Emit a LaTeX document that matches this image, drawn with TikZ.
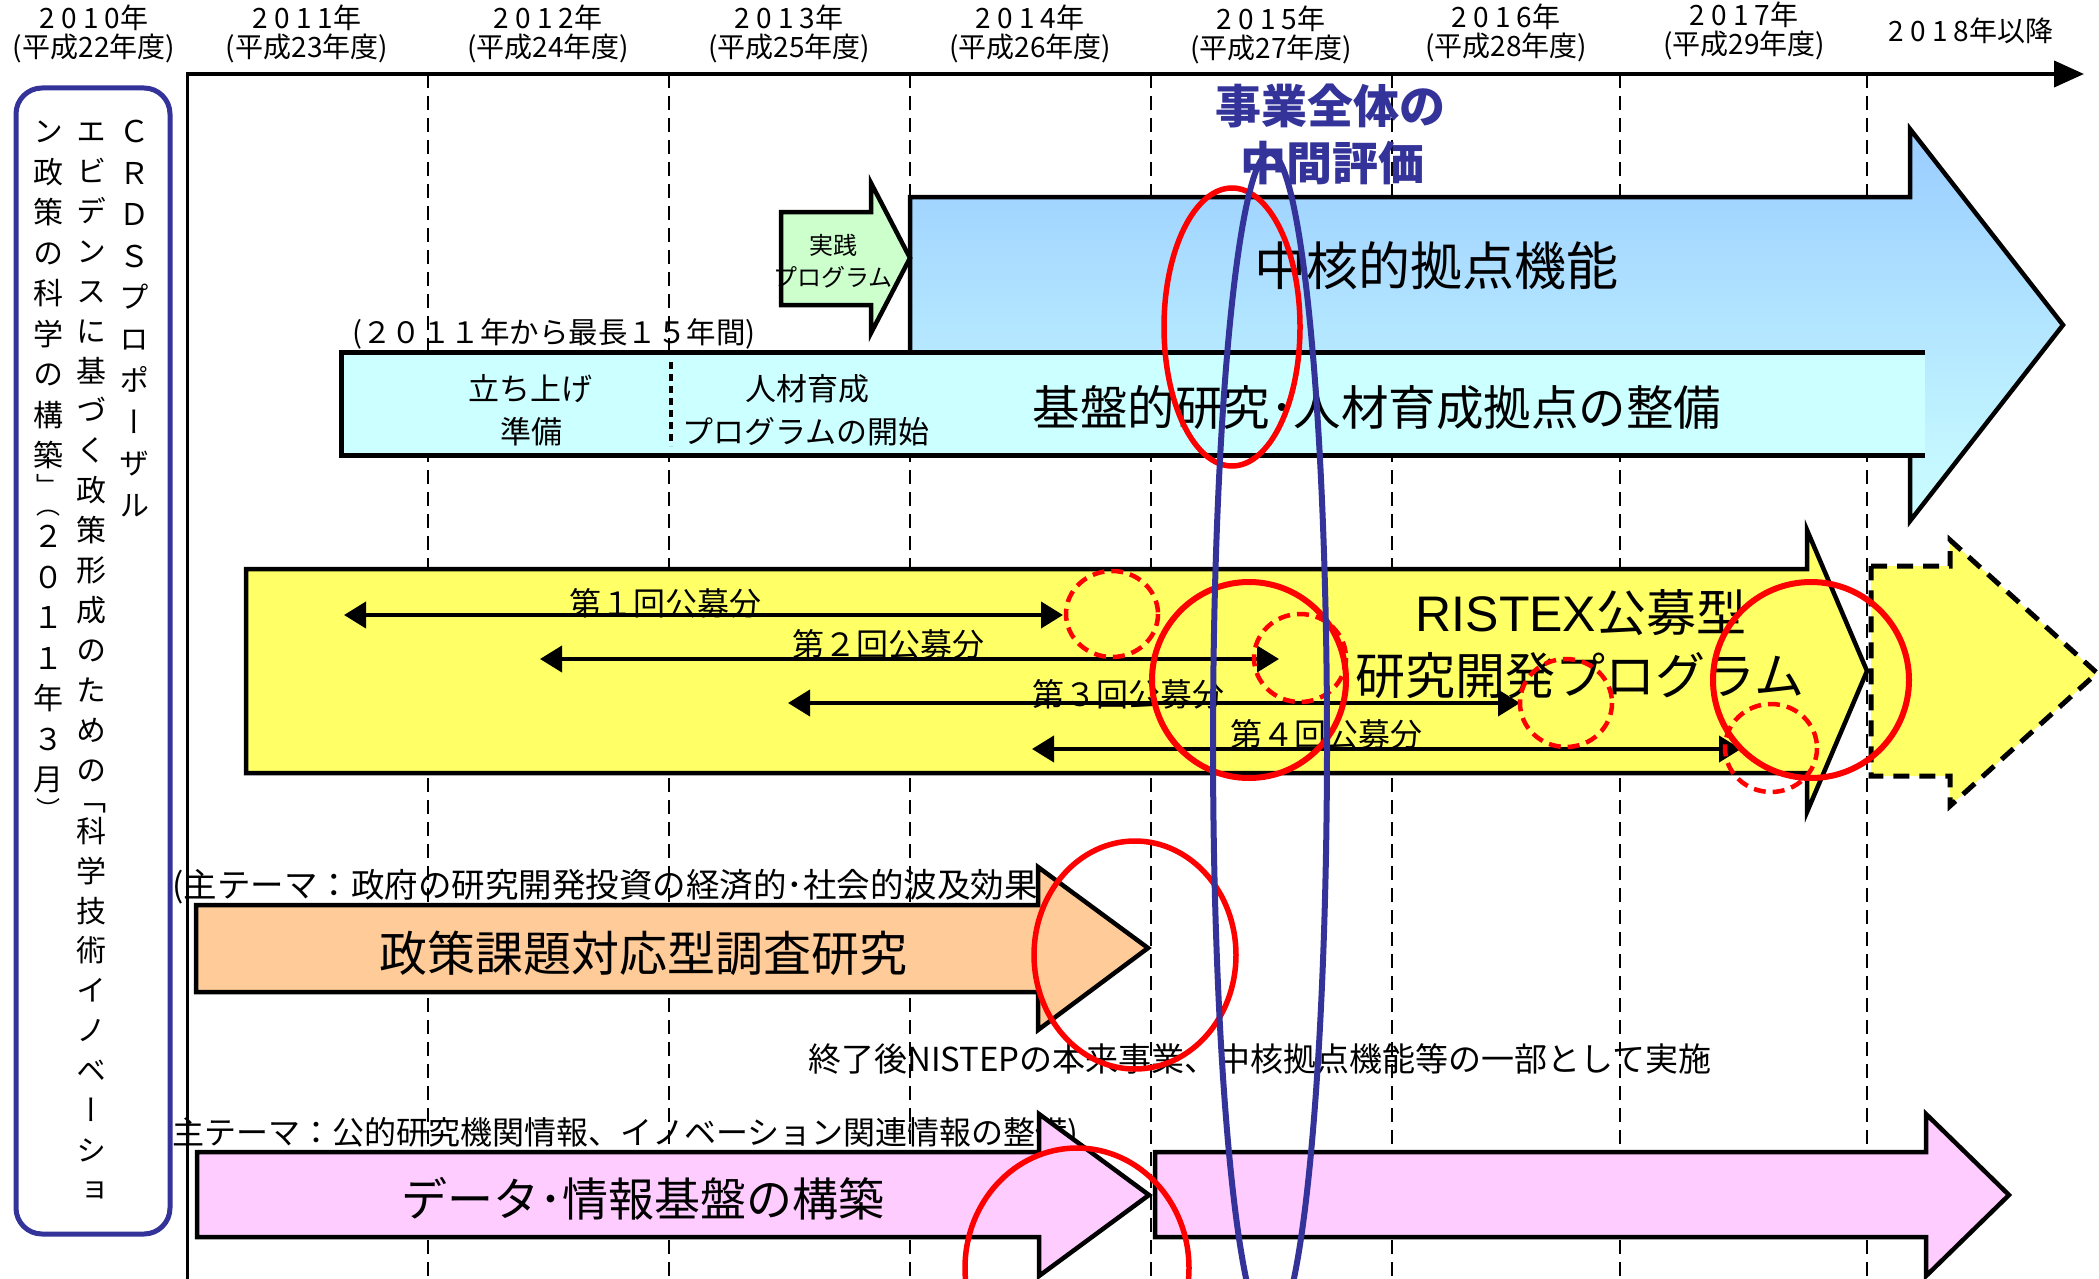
\documentclass[tikz,border=0pt]{standalone}
\usepackage{fontspec}
\setmainfont{Noto Sans CJK JP}
\newfontfamily\vfont[RawFeature={+vert}]{Noto Sans CJK JP}
\newfontfamily\latfont{Liberation Sans}
\usetikzlibrary{arrows.meta}
\definecolor{blueA}{HTML}{99CCFF}
\definecolor{cyanA}{HTML}{CCFFFF}
\definecolor{greenA}{HTML}{CCFFCC}
\definecolor{yellowA}{HTML}{FFFF66}
\definecolor{orangeA}{HTML}{FFCC99}
\definecolor{pinkA}{HTML}{FFCCFF}
\definecolor{navyA}{HTML}{333399}
\definecolor{redA}{HTML}{FF0000}
\newcommand\fsz[1]{\fontsize{#1pt}{#1pt}\selectfont}
% one cell of vertical text: glyph, row height, raise of glyph baseline
\newcommand\vcell[3]{\hbox to 30pt{\hss\raise#3\hbox{\smash{#1}}\hss\vrule height#2 depth0pt width0pt}}
\newcommand\vcA[1]{\vcell{#1}{41.5pt}{9.35pt}}
\newcommand\vcB[1]{\vcell{#1}{39.9pt}{8.55pt}}
\newcommand\vhB[1]{\vcell{#1}{19.95pt}{-1.425pt}}
\newcommand\vcC[1]{\vcell{#1}{40.5pt}{8.85pt}}
\newcommand\vhC[1]{\vcell{\fsz{24}#1}{20.25pt}{1pt}}
\tikzset{
 lbl/.style={inner sep=0pt, font=\fsz{#1}},
 vcol/.style={inner sep=0pt, anchor=north, font=\vfont\fsz{30}},
 arrowbox/.style={draw=black, line width=4.5pt, line join=miter},
 yrline/.style={draw=black, line width=2.2pt, dash pattern=on 14pt off 8pt},
 redd/.style={draw=redA, line width=4.5pt, dash pattern=on 12pt off 7pt},
 reds/.style={draw=redA, line width=5.5pt},
 navyell/.style={draw=navyA, line width=6pt},
 spanarrow/.style={line width=4pt, {Triangle[length=22pt,width=26pt]}-{Triangle[length=22pt,width=26pt]}}
}
\begin{document}
\begin{tikzpicture}[x=1pt,y=-1pt]
\useasboundingbox (0,0) rectangle (2099,1279);
\clip (0,0) rectangle (2099,1279);
\fill[white] (0,0) rectangle (2099,1279);

% year grid lines
\foreach \x in {428,669,910,1151,1392,1620,1867}
  \draw[yrline] (\x,74) -- (\x,1279);

% year labels
\node[lbl=28] (y10a) at (94,18) {2 0 1 0年};
\node[lbl=28] (y10b) at (94,48) {(平成22年度)};
\node[lbl=28] (y11a) at (307,18) {2 0 1 1年};
\node[lbl=28] (y11b) at (307,48) {(平成23年度)};
\node[lbl=28] (y12a) at (548,18) {2 0 1 2年};
\node[lbl=28] (y12b) at (548,48) {(平成24年度)};
\node[lbl=28] (y13a) at (789,18) {2 0 1 3年};
\node[lbl=28] (y13b) at (789,48) {(平成25年度)};
\node[lbl=28] (y14a) at (1030,18) {2 0 1 4年};
\node[lbl=28] (y14b) at (1030,48) {(平成26年度)};
\node[lbl=28] (y15a) at (1271,19) {2 0 1 5年};
\node[lbl=28] (y15b) at (1271,49) {(平成27年度)};
\node[lbl=28] (y16a) at (1506,17) {2 0 1 6年};
\node[lbl=28] (y16b) at (1506,47) {(平成28年度)};
\node[lbl=28] (y17a) at (1744,15) {2 0 1 7年};
\node[lbl=28] (y17b) at (1744,45) {(平成29年度)};
\node[lbl=28] (y18a) at (1971,31) {2 0 1 8年以降};

% axes
\coordinate (O) at (187,74);
\coordinate (Otop) at (187,72);
\coordinate (Xend) at (2084,74);
\coordinate (Yend) at (187,1285);
\draw[line width=4pt, -{Triangle[length=30pt,width=26pt]}] (O) -- (Xend);
\draw[line width=3pt] (Otop) -- (Yend);

% left proposal box with vertical text
\node[draw=navyA, line width=5pt, rounded corners=26pt, fill=white, inner sep=0pt,
      minimum width=154pt, minimum height=1146pt] (crds) at (93,661) {};
\node[vcol] (colA) at (134,110.25) {\vbox{\offinterlineskip
  \vcA{Ｃ}\vcA{Ｒ}\vcA{Ｄ}\vcA{Ｓ}\vcA{プ}\vcA{ロ}\vcA{ポ}\vcA{ー}\vcA{ザ}\vcA{ル}}};
\node[vcol] (colB) at (91,111.05) {\vbox{\offinterlineskip
  \vcB{エ}\vcB{ビ}\vcB{デ}\vcB{ン}\vcB{ス}\vcB{に}\vcB{基}\vcB{づ}\vcB{く}\vcB{政}\vcB{策}\vcB{形}\vcB{成}\vcB{の}\vcB{た}\vcB{め}\vcB{の}\vhB{「}\vcB{科}\vcB{学}\vcB{技}\vcB{術}\vcB{イ}\vcB{ノ}\vcB{ベ}\vcB{ー}\vcB{シ}\vcB{ョ}}};
\node[vcol] (colC) at (48,110.75) {\vbox{\offinterlineskip
  \vcC{ン}\vcC{政}\vcC{策}\vcC{の}\vcC{科}\vcC{学}\vcC{の}\vcC{構}\vcC{築}\vhC{」}\vhC{（}\vcC{２}\vcC{０}\vcC{１}\vcC{１}\vcC{年}\vcC{３}\vcC{月}\vhC{）}}};

% core function arrow (blue)
\draw[arrowbox, top color=blueA, middle color=blueA, bottom color=cyanA]
  (910,197) -- (1910,197) -- (1910,129) -- (2063,325) -- (1910,521) -- (1910,455) -- (910,455) -- cycle;
% practice program arrow (green)
\draw[arrowbox, fill=greenA]
  (781,212) -- (871,212) -- (871,183) -- (910,258) -- (871,333) -- (871,305) -- (781,305) -- cycle;
\node[lbl=24] (jissen1) at (833,245) {実践};
\node[lbl=24] (jissen2) at (833,277) {プログラム};
\node[lbl=52] (core) at (1436,266) {中核的拠点機能};

% base bar (cyan)
\fill[cyanA] (341,352) rectangle (1925,455);
\draw[line width=5pt, line join=miter] (1925,352) -- (341,352) -- (341,455) -- (1925,455);
\draw[line width=4pt, dash pattern=on 7pt off 5pt] (671,362) -- (671,446);
\node[lbl=31] (tachi1) at (530,389) {立ち上げ};
\node[lbl=31] (tachi2) at (531,432) {準備};
\node[lbl=31] (jinz1) at (807,389) {人材育成};
\node[lbl=31] (jinz2) at (806,432) {プログラムの開始};
\node[lbl=47.5] (base) at (1377,408) {基盤的研究･人材育成拠点の整備};
\node[lbl=29.5] (period) at (554,334) {(２０１１年から最長１５年間)};

% RISTEX arrow (yellow)
\draw[arrowbox, fill=yellowA]
  (246,569) -- (1807,569) -- (1807,530) -- (1867,671) -- (1807,812) -- (1807,773) -- (246,773) -- cycle;
\draw[line width=5pt, dash pattern=on 16pt off 10pt, line join=miter, fill=yellowA]
  (1871,566) -- (1950,566) -- (1950,540) -- (2097,673) -- (1950,806) -- (1950,776) -- (1871,776) -- cycle;
\node[lbl=50] (ristex1) at (1581,613) {{\latfont RISTEX}公募型};
\node[lbl=50] (ristex2) at (1580,676) {研究開発プログラム};

\coordinate (a1l) at (344,615);  \coordinate (a1r) at (1063,615);
\coordinate (a2l) at (540,659);  \coordinate (a2r) at (1279,659);
\coordinate (a3l) at (788,703);  \coordinate (a3r) at (1520,703);
\coordinate (a4l) at (1032,749); \coordinate (a4r) at (1741,749);
\draw[spanarrow] (a1l) -- (a1r);
\draw[spanarrow] (a2l) -- (a2r);
\draw[spanarrow] (a3l) -- (a3r);
\draw[spanarrow] (a4l) -- (a4r);
\node[lbl=32] (k1) at (665,603) {第１回公募分};
\node[lbl=32] (k2) at (888,644) {第２回公募分};
\node[lbl=32] (k3) at (1128,694) {第３回公募分};
\node[lbl=32] (k4) at (1326,734) {第４回公募分};

% policy research arrow (orange)
\node[lbl=33.5, anchor=west] (theme1) at (172,887) {(主テーマ：政府の研究開発投資の経済的･社会的波及効果};
\draw[arrowbox, fill=orangeA]
  (196,905) -- (1038,905) -- (1038,867) -- (1148,948) -- (1038,1030) -- (1038,992) -- (196,992) -- cycle;
\node[lbl=48] (policy) at (643,953) {政策課題対応型調査研究};
\node[lbl=33] (after) at (1260,1059) {終了後NISTEPの本来事業、中核拠点機能等の一部として実施};

% data arrows (pink)
\node[lbl=32, anchor=west] (theme2) at (172,1134) {主テーマ：公的研究機関情報、イノベーション関連情報の整備)};
\draw[arrowbox, fill=pinkA]
  (197,1152) -- (1039,1152) -- (1039,1114) -- (1149,1195) -- (1039,1276) -- (1039,1237) -- (197,1237) -- cycle;
\draw[arrowbox, fill=pinkA]
  (1155,1152) -- (1926,1152) -- (1926,1114) -- (2009,1195) -- (1926,1276) -- (1926,1237) -- (1155,1237) -- cycle;
\node[lbl=46] (data) at (643,1199) {データ･情報基盤の構築};

% mid-term evaluation
\node[lbl=46, font=\fsz{46}\bfseries, text=navyA] (eval1) at (1330,106) {事業全体の};
\node[lbl=46, font=\fsz{46}\bfseries, text=navyA] (eval2) at (1332,163) {中間評価};

% red marks
\draw[redd] (1112,614) ellipse [x radius=46, y radius=43];
\draw[redd] (1300,658) ellipse [x radius=46, y radius=44];
\draw[redd] (1566,703) ellipse [x radius=46, y radius=44];
\draw[redd] (1771,748) ellipse [x radius=46, y radius=44];
\draw[reds] (1232,327) ellipse [x radius=68, y radius=139];
\draw[reds, line width=6pt] (1249,680) ellipse [x radius=97, y radius=98];
\draw[reds, line width=6pt] (1811,680) ellipse [x radius=98, y radius=98];
\draw[reds] (1135,955) ellipse [x radius=101, y radius=114];
\draw[reds] (1077,1268) ellipse [x radius=112, y radius=120];
% blue evaluation ellipse
\draw[navyell] (1270,743) ellipse [x radius=57, y radius=590];
\end{tikzpicture}
\end{document}
